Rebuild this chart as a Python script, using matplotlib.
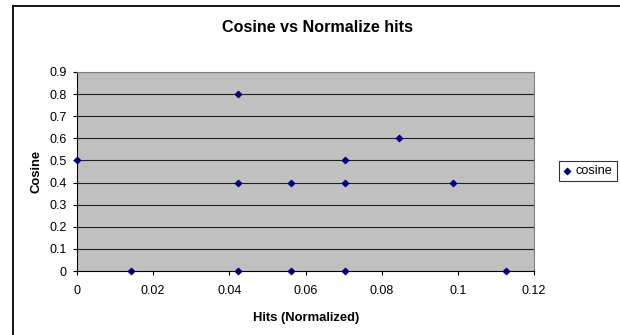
import matplotlib
matplotlib.use("Agg")
import matplotlib.pyplot as plt
from matplotlib.lines import Line2D

hits = [0.0, 0.0141, 0.0423, 0.0423, 0.0423, 0.0563, 0.0563, 0.0704, 0.0704, 0.0704, 0.0845, 0.0986, 0.1127]
cosine = [0.5, 0.0, 0.8, 0.4, 0.0, 0.4, 0.0, 0.5, 0.4, 0.0, 0.6, 0.4, 0.0]
series_name = "cosine"
title = "Cosine vs Normalize hits"
xlabel = "Hits (Normalized)"
ylabel = "Cosine"
xticks = [0, 0.02, 0.04, 0.06, 0.08, 0.1, 0.12]
xticklabels = ["0", "0.02", "0.04", "0.06", "0.08", "0.1", "0.12"]
yticks = [0, 0.1, 0.2, 0.3, 0.4, 0.5, 0.6, 0.7, 0.8, 0.9]
yticklabels = ["0", "0.1", "0.2", "0.3", "0.4", "0.5", "0.6", "0.7", "0.8", "0.9"]

plt.rcParams['font.family'] = ['Liberation Sans', 'DejaVu Sans']

W, H = 620, 335
fig = plt.figure(figsize=(W / 100, H / 100), dpi=100)

# outer chart border (only top and left visible)
fig.add_artist(Line2D([12.5 / W, 12.5 / W], [-0.1, 1 - 5.5 / H], color='black', lw=1.3, transform=fig.transFigure))
fig.add_artist(Line2D([12.5 / W, 1.1], [1 - 5.5 / H, 1 - 5.5 / H], color='black', lw=1.3, transform=fig.transFigure))

L, R, T, B = 77, 534, 72, 271
ax = fig.add_axes([L / W, (H - B) / H, (R - L) / W, (B - T) / H])
ax.set_facecolor('#c0c0c0')
ax.set_xlim(0, 0.12)
ax.set_ylim(0, 0.9)
ax.set_xticks(xticks)
ax.set_xticklabels(xticklabels)
ax.set_yticks(yticks)
ax.set_yticklabels(yticklabels)
ax.tick_params(axis='both', direction='out', length=3, width=0.8, labelsize=9, colors='black')
ax.tick_params(axis='y', pad=4.2)
ax.tick_params(axis='x', pad=7)
for y in yticks[1:]:
    ax.axhline(y, color='#202020', lw=0.8, zorder=1)
for s in ['top', 'right']:
    ax.spines[s].set_color('#808080')
    ax.spines[s].set_linewidth(0.8)
for s in ['left', 'bottom']:
    ax.spines[s].set_color('black')
    ax.spines[s].set_linewidth(0.8)

ax.scatter(hits, cosine, marker='D', s=10, color='#000080', zorder=5, clip_on=False, label=series_name)

fig.text(318 / W, 1 - 28 / H, title, ha='center', va='center', fontsize=11.6, fontweight='bold')
fig.text(306 / W, 1 - 318 / H, xlabel, ha='center', va='center', fontsize=9.4, fontweight='bold')
fig.text(36 / W, 1 - 171 / H, ylabel, ha='center', va='center', fontsize=9.4, fontweight='bold', rotation=90)

leg = fig.legend(loc='center left', bbox_to_anchor=(559 / W, 1 - 171 / H), frameon=True,
                 fontsize=9.2, handlelength=0.5, handletextpad=0.45, borderpad=0.35,
                 fancybox=False, markerscale=1.0, borderaxespad=0)
leg.get_frame().set_edgecolor('black')
leg.get_frame().set_linewidth(0.8)

fig.savefig('out.png', dpi=100)
